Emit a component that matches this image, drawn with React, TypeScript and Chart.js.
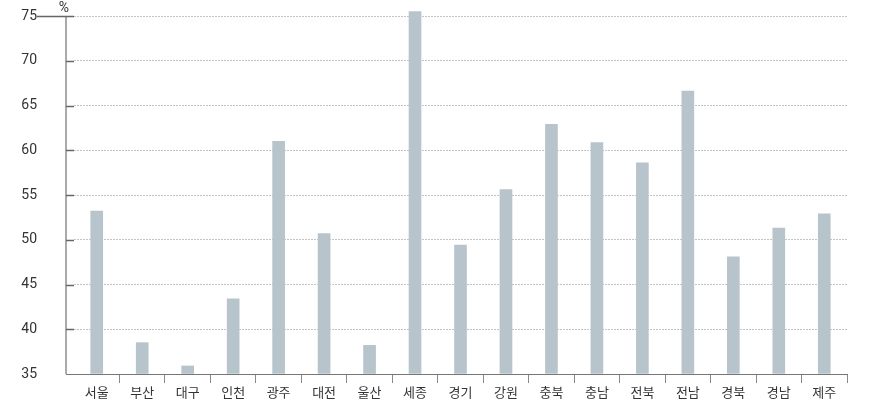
import React, { useEffect, useRef } from "react";
import { Chart, registerables } from "chart.js";

Chart.register(...registerables);

const regions = ["서울", "부산", "대구", "인천", "광주", "대전", "울산", "세종", "경기", "강원", "충북", "충남", "전북", "전남", "경북", "경남", "제주"];
const values = [53.2, 38.5, 35.9, 43.4, 61.0, 50.7, 38.2, 75.5, 49.4, 55.6, 62.9, 60.85, 58.6, 66.6, 48.1, 51.3, 52.9];
const yMin = 35;
const yMax = 75;
const yStep = 5;
const unitLabel = "%";

const AXIS_GAP = 8;

const axisDecor = {
  id: "axisDecor",
  afterDatasetsDraw(chart: any) {
    const { ctx, chartArea, scales } = chart;
    const y = scales.y;
    const axisX = chartArea.left - AXIS_GAP;
    ctx.save();
    ctx.strokeStyle = "#777";
    ctx.lineWidth = 1;
    const by = Math.round(chartArea.bottom) + 0.5;
    ctx.beginPath();
    ctx.moveTo(axisX, by);
    ctx.lineTo(chartArea.left, by);
    ctx.stroke();
    ctx.strokeStyle = "#aaaaaa";
    ctx.lineWidth = 2;
    ctx.beginPath();
    ctx.moveTo(axisX, chartArea.top);
    ctx.lineTo(axisX, chartArea.bottom);
    ctx.stroke();
    ctx.strokeStyle = "#666";
    ctx.lineWidth = 1.5;
    y.ticks.forEach((t: any) => {
      if (t.value === yMin) return;
      const py = Math.round(y.getPixelForValue(t.value)) + 0.5;
      ctx.beginPath();
      const startX = t.value === yMax ? axisX - 29 : axisX;
      ctx.moveTo(startX, py);
      ctx.lineTo(chartArea.left, py);
      ctx.stroke();
    });
    ctx.fillStyle = "#333";
    ctx.font = "14px Roboto, 'Noto Sans', sans-serif";
    ctx.textAlign = "center";
    ctx.textBaseline = "middle";
    ctx.fillText(unitLabel, axisX - 2, chartArea.top - 8);
    ctx.restore();
  },
};

export default function App() {
  const ref = useRef<HTMLCanvasElement>(null);
  useEffect(() => {
    document.body.style.margin = "0";
    const chart = new Chart(ref.current!, {
      type: "bar",
      data: {
        labels: regions,
        datasets: [
          {
            data: values,
            backgroundColor: "#b8c4cc",
            barThickness: 12,
            base: yMin,
            clip: { left: 0, right: 0, bottom: 0, top: 10 } as any,
          } as any,
        ],
      },
      options: {
        animation: false,
        responsive: false,
        maintainAspectRatio: false,
        layout: { padding: { left: 0, right: 25, top: 16, bottom: 0 } },
        plugins: { legend: { display: false }, tooltip: { enabled: false } },
        scales: {
          x: {
            grid: {
              offset: true,
              drawOnChartArea: false,
              tickLength: 9,
              color: (c: any) => (c.index === 0 ? "rgba(0,0,0,0)" : "#888"),
              lineWidth: 1,
            },
            border: { color: "#777", width: 1 },
            ticks: {
              padding: 1,
              color: "#333",
              font: { family: "'Noto Sans CJK KR', sans-serif", size: 13 },
              maxRotation: 0,
              autoSkip: false,
            },
            afterFit: (s: any) => {
              s.height = 28;
              s.paddingLeft = 0;
              s.paddingRight = 0;
            },
          },
          y: {
            min: yMin,
            max: yMax,
            ticks: {
              stepSize: yStep,
              padding: 37,
              color: "#333",
              font: { family: "Roboto, 'Noto Sans', sans-serif", size: 14 },
            },
            grid: {
              drawTicks: false,
              color: (c: any) => (c.tick && c.tick.value === yMin ? "rgba(0,0,0,0)" : "#c4c4c4"),
              lineWidth: 1,
            },
            border: { display: false, dash: [2, 1] } as any,
            afterFit: (s: any) => {
              s.width = 74;
              s.paddingTop = 0;
              s.paddingBottom = 0;
            },
          },
        },
      },
      plugins: [axisDecor],
    });
    return () => chart.destroy();
  }, []);
  return (
    <div style={{ position: "relative", width: 872, height: 402 }}>
      <canvas ref={ref} width={872} height={402} style={{ width: 872, height: 402 }} />
    </div>
  );
}
